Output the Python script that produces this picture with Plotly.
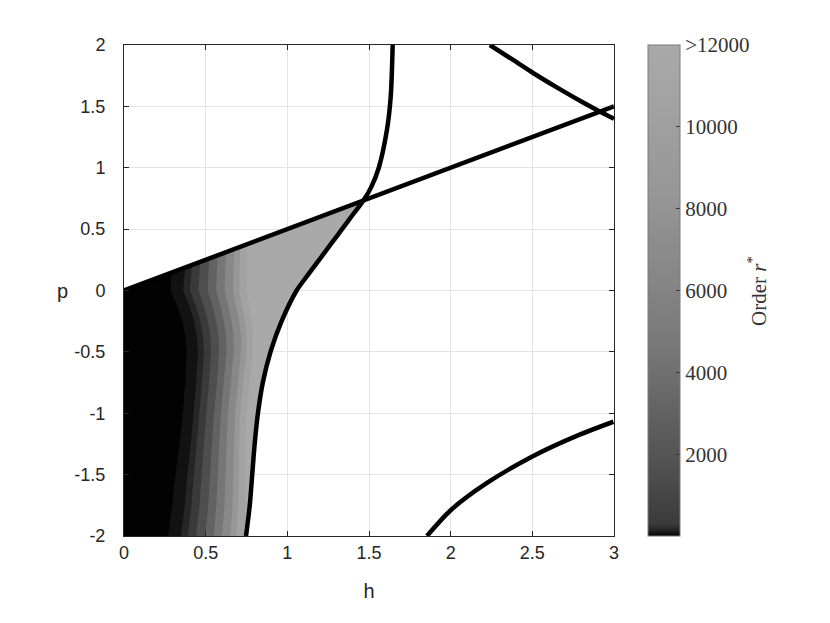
import numpy as np
import plotly.graph_objects as go
from plotly.colors import sample_colorscale

# ---------------- data ----------------
X_TICKS = [0, 0.5, 1, 1.5, 2, 2.5, 3]
X_TICK_TEXT = ["0", "0.5", "1", "1.5", "2", "2.5", "3"]
Y_TICKS = [-2, -1.5, -1, -0.5, 0, 0.5, 1, 1.5, 2]
Y_TICK_TEXT = ["-2", "-1.5", "-1", "-0.5", "0", "0.5", "1", "1.5", "2"]
CB_TICKS = [2000, 4000, 6000, 8000, 10000, 12000]
CB_TICK_TEXT = ["2000", "4000", "6000", "8000", "10000", ">12000"]

# straight boundary p = h/2
LINE_H = [0.0, 3.0]
LINE_P = [0.0, 1.5]

# curved boundary that closes the shaded region on the right
CURVE2_H = [0.747, 0.770, 0.785, 0.800, 0.820, 0.850, 0.897, 0.965, 1.057, 1.125,
            1.195, 1.265, 1.335, 1.405, 1.467, 1.515, 1.560, 1.610, 1.633, 1.645]
CURVE2_P = [-2.0, -1.75, -1.5, -1.25, -1.0, -0.75, -0.5, -0.25, 0.0, 0.125,
            0.25, 0.375, 0.5, 0.625, 0.735, 0.846, 1.0, 1.31, 1.58, 2.0]

# upper-right curve
CURVE3_H = [2.24, 2.38, 2.507, 2.65, 2.80, 2.915, 3.0]
CURVE3_P = [2.0, 1.88, 1.77, 1.655, 1.54, 1.457, 1.40]

# lower-right curve
CURVE4_H = [1.855, 2.0, 2.22, 2.497, 2.75, 2.996]
CURVE4_P = [-2.0, -1.79, -1.57, -1.354, -1.196, -1.069]

# shaded field: positions (h) where the grey level changes, per p row
P_ROWS = [-2.0, -1.75, -1.5, -1.25, -1.0, -0.75, -0.5, -0.375, -0.25, -0.125, 0.0]
EDGE_H = [
    [0.270, 0.295, 0.315, 0.340, 0.360, 0.375, 0.383, 0.375, 0.358, 0.325, 0.285],
    [0.349, 0.372, 0.388, 0.409, 0.426, 0.442, 0.452, 0.446, 0.430, 0.400, 0.362],
    [0.391, 0.412, 0.427, 0.445, 0.461, 0.478, 0.489, 0.484, 0.468, 0.440, 0.404],
    [0.442, 0.462, 0.474, 0.490, 0.504, 0.521, 0.533, 0.529, 0.514, 0.488, 0.456],
    [0.498, 0.516, 0.526, 0.538, 0.551, 0.569, 0.582, 0.579, 0.565, 0.541, 0.512],
    [0.549, 0.565, 0.573, 0.583, 0.594, 0.612, 0.627, 0.625, 0.612, 0.590, 0.564],
    [0.600, 0.615, 0.620, 0.628, 0.637, 0.655, 0.672, 0.671, 0.659, 0.639, 0.616],
    [0.651, 0.664, 0.668, 0.672, 0.680, 0.699, 0.716, 0.716, 0.705, 0.687, 0.667],
    [0.689, 0.700, 0.702, 0.705, 0.711, 0.731, 0.749, 0.750, 0.740, 0.723, 0.705],
    [0.735, 0.745, 0.745, 0.745, 0.750, 0.770, 0.788, 0.790, 0.781, 0.766, 0.751],
]
EDGE_TOP_H = [0.290, 0.375, 0.416, 0.466, 0.522, 0.573, 0.624, 0.674, 0.711, 0.755]
# order r* of each band, darkest (left) to lightest (right)
BAND_VALUES = [10, 60, 150, 300, 1500, 3000, 4500, 6500, 8500, 10500, 12000]

# ---------------- styling ----------------
CMAX = 12000
CSCALE = [
    [0.0, "#000000"], [0.002, "#050505"], [0.005, "#121212"], [0.0125, "#262626"],
    [0.025, "#3a3a3a"], [0.125, "#4e4e4e"], [0.25, "#626262"], [0.375, "#767676"],
    [0.542, "#888888"], [0.708, "#979797"], [0.875, "#a2a2a2"], [1.0, "#a9a9a9"],
]
band_colors = sample_colorscale(CSCALE, [v / CMAX for v in BAND_VALUES])

# plot area in pixels (reference)
PX_L, PX_R, PX_T, PX_B = 124, 614, 45, 536
W, H = 830, 623
plot_w = PX_R - PX_L
plot_h = PX_B - PX_T

fig = go.Figure()

# full shaded region (lightest band): left of curve2, below p = h/2
h2 = np.array(CURVE2_H)
p2 = np.array(CURVE2_P)
d = p2 - h2 / 2.0
i = int(np.where(d >= 0)[0][0])
t = d[i - 1] / (d[i - 1] - d[i])
hx = h2[i - 1] + t * (h2[i] - h2[i - 1])
reg_h = [0.0] + list(h2[:i]) + [hx, 0.0, 0.0]
reg_p = [-2.0] + list(p2[:i]) + [hx / 2.0, 0.0, -2.0]
fig.add_trace(go.Scatter(x=reg_h, y=reg_p, mode="lines", fill="toself",
                         fillcolor=band_colors[-1], line=dict(width=0),
                         hoverinfo="skip", showlegend=False))

# darker bands stacked from right to left
for k in range(len(EDGE_H) - 1, -1, -1):
    top = EDGE_TOP_H[k]
    bh = [0.0] + EDGE_H[k] + [top, 0.0, 0.0]
    bp = [-2.0] + P_ROWS + [top / 2.0, 0.0, -2.0]
    fig.add_trace(go.Scatter(x=bh, y=bp, mode="lines", fill="toself",
                             fillcolor=band_colors[k], line=dict(width=0),
                             hoverinfo="skip", showlegend=False))

# boundary curves
for xs, ys in [(LINE_H, LINE_P), (CURVE2_H, CURVE2_P),
               (CURVE3_H, CURVE3_P), (CURVE4_H, CURVE4_P)]:
    fig.add_trace(go.Scatter(x=xs, y=ys, mode="lines",
                             line=dict(color="black", width=4.5, shape="spline", smoothing=0.8),
                             hoverinfo="skip", showlegend=False))

# colorbar carrier (off-range point)
fig.add_trace(go.Scatter(
    x=[-5], y=[-5], mode="markers", showlegend=False, hoverinfo="skip",
    marker=dict(color=[0], cmin=0, cmax=CMAX, colorscale=CSCALE, showscale=True,
                colorbar=dict(
                    x=(648 - PX_L) / plot_w, xanchor="left", y=0.5, yanchor="middle",
                    len=1.0, lenmode="fraction", thickness=32,
                    xpad=0, ypad=0, outlinecolor="#7a7a7a", outlinewidth=1,
                    tickvals=CB_TICKS, ticktext=CB_TICK_TEXT,
                    ticks="inside", ticklen=4, tickcolor="#333333",
                    tickfont=dict(family="Liberation Serif", size=21, color="#333333"),
                ))))

axis_common = dict(
    showline=True, linecolor="#262626", linewidth=1, mirror="ticks",
    ticks="inside", ticklen=5, tickcolor="#262626",
    showgrid=True, gridcolor="#e3e3e3", gridwidth=1, zeroline=False,
    tickfont=dict(family="Liberation Sans", size=18, color="#262626"),
)

fig.update_layout(
    width=W, height=H,
    margin=dict(l=PX_L, r=W - PX_R, t=PX_T, b=H - PX_B),
    paper_bgcolor="white", plot_bgcolor="white",
    xaxis=dict(range=[0, 3], tickvals=X_TICKS, ticktext=X_TICK_TEXT,
               title=dict(text="h", font=dict(family="Liberation Sans", size=20, color="#262626"),
                          standoff=22),
               **axis_common),
    yaxis=dict(range=[-2, 2], tickvals=Y_TICKS, ticktext=Y_TICK_TEXT,
               ticklabelstandoff=14, **axis_common),
    annotations=[
        dict(text="p", x=(62 - PX_L) / plot_w, y=0.0, xref="paper", yref="y",
             xanchor="center", yanchor="middle", showarrow=False,
             font=dict(family="Liberation Sans", size=20, color="#262626")),
        dict(text="Order <i>r</i><sup>*</sup>", x=(757 - PX_L) / plot_w,
             y=(PX_B - 291) / plot_h, xref="paper", yref="paper",
             xanchor="center", yanchor="middle", textangle=-90, showarrow=False,
             font=dict(family="Liberation Serif", size=21, color="#333333")),
    ],
)

fig.write_html("out.html", config={"displayModeBar": False},
               post_script="document.body.style.margin='0';")
